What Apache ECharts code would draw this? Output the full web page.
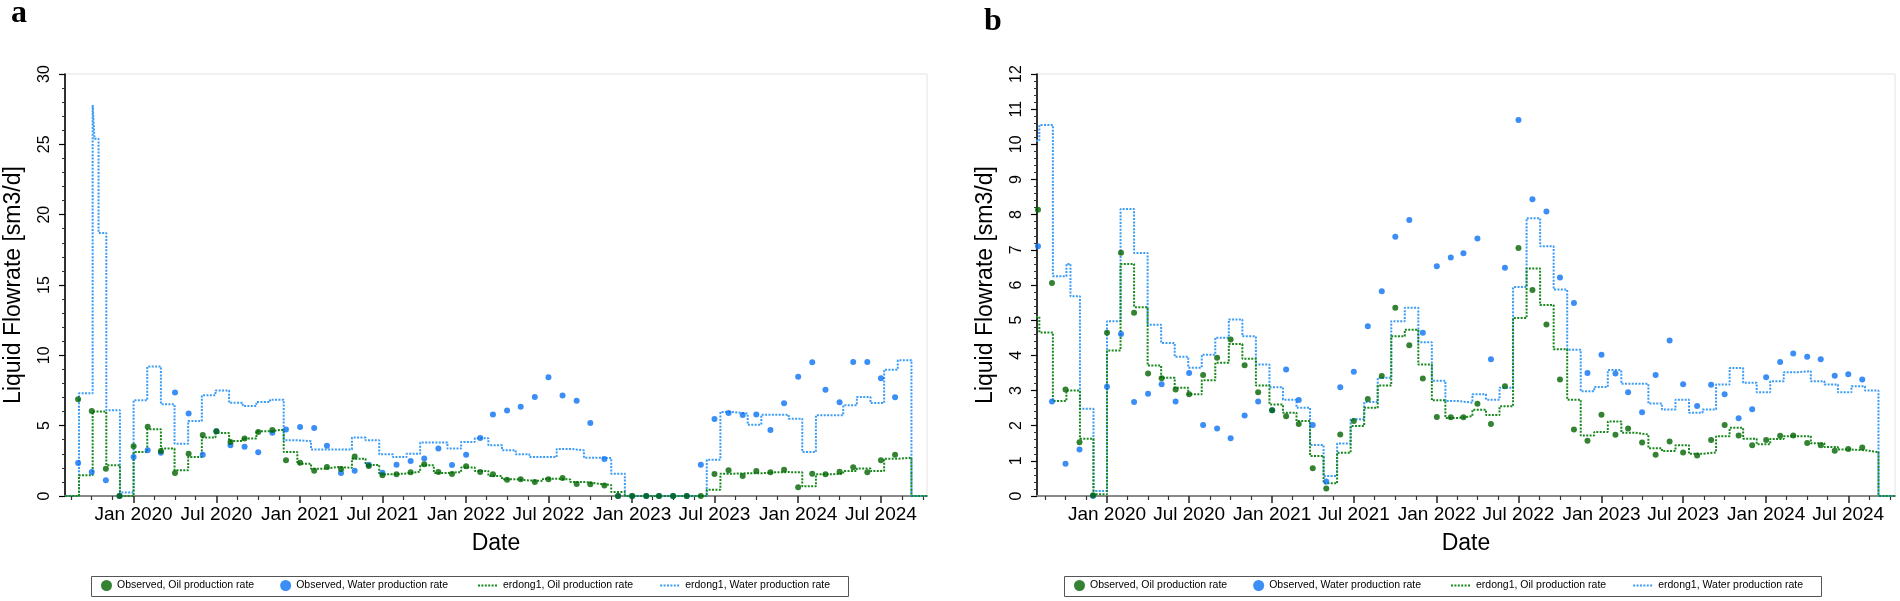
<!DOCTYPE html>
<html><head><meta charset="utf-8">
<script src="https://cdn.jsdelivr.net/npm/echarts@6/dist/echarts.min.js"></script>
<style>html,body{margin:0;padding:0;background:#fff}#c{width:1900px;height:601px}</style>
</head><body><div id="c"></div>
<script>
// ---------------- data ----------------
const tickLabels = ['Jan 2020','Jul 2020','Jan 2021','Jul 2021','Jan 2022','Jul 2022','Jan 2023','Jul 2023','Jan 2024','Jul 2024'];
const seriesNames = ['Observed, Oil production rate','Observed, Water production rate','erdong1, Oil production rate','erdong1, Water production rate'];

// observed, monthly (first of month) from the start month
const obsStartA = '2019-09';
const obsOilA = [6.88,6.05,1.94,0,
  3.53,4.93,3.2,1.64,3.01,4.34,4.6,3.84,4.08,4.55,4.7,2.54,
  2.37,1.8,2.06,1.92,2.8,2.13,1.47,1.54,1.68,2.25,1.71,1.57,
  2.11,1.71,1.54,1.16,1.19,1.0,1.19,1.28,0.85,0.83,0.74,0,
  0,0,0,0,0,0,1.57,1.83,1.42,1.78,1.68,1.87,
  0.62,1.59,1.54,1.73,2.04,1.68,2.54,2.94];
const obsWaterA = [2.35,1.71,1.12,0,
  2.77,3.25,3.08,7.35,5.86,2.94,4.6,3.6,3.51,3.11,4.5,4.72,
  4.91,4.84,3.58,1.64,1.8,2.23,1.66,2.23,2.49,2.66,3.37,2.21,
  2.94,4.13,5.79,6.07,6.35,7.04,8.44,7.14,6.78,5.19,2.63,0,
  0,0,0,0,0,2.23,5.48,5.9,5.76,5.79,4.7,6.59,
  8.47,9.51,7.56,6.66,9.53,9.53,8.37,7.02];

const obsStartB = '2019-08';
const obsOilB = [8.14,6.06,3.03,1.53,0.02,
  4.64,6.92,5.21,3.48,3.35,3.03,2.89,3.44,3.93,4.45,3.72,2.95,
  2.44,2.27,2.05,0.79,0.21,1.75,2.13,2.76,3.41,5.35,4.29,3.34,
  2.25,2.24,2.24,2.62,2.05,3.12,7.05,5.86,4.88,3.31,1.89,1.57,
  2.31,1.74,1.92,1.52,1.17,1.55,1.24,1.15,1.59,2.02,1.72,1.44,
  1.59,1.71,1.72,1.51,1.44,1.29,1.34,1.38];
const obsWaterB = [7.1,2.69,0.92,1.32,0,
  3.11,4.61,2.67,2.91,3.18,2.69,3.5,2.02,1.92,1.64,2.29,2.69,
  2.44,3.6,2.73,2.02,0.41,3.09,3.53,4.83,5.82,7.37,7.85,4.64,
  6.53,6.78,6.9,7.32,3.89,6.49,10.69,8.44,8.09,6.21,5.49,3.5,
  4.02,3.48,2.95,2.38,3.44,4.42,3.18,2.56,3.16,2.89,2.21,2.47,
  3.38,3.81,4.05,3.96,3.89,3.42,3.46,3.31];

// simulated (erdong1): 30-day report steps, step k starts at day 30*k after 2020-01-01
const simFirstStep = -6;
const simStepDays = 30;
const simOilA = [0,0,1.47,6.0,2.18,0,
  3.13,4.74,3.37,1.83,2.78,4.15,4.48,3.91,4.08,4.6,
  4.72,3.13,2.3,1.94,2.06,2.0,2.65,2.2,1.54,1.6,
  1.73,2.18,1.64,1.7,2.02,1.78,1.42,1.19,1.1,1.07,
  1.23,1.18,1.0,0.88,0.78,0.29,0,0,0,0,
  0,0,0.45,1.59,1.62,1.62,1.68,1.7,1.68,0.69,
  1.54,1.59,1.78,1.95,1.78,2.65,2.72,0];
const simWaterA = [0,0,7.3,27.8,6.1,0.24,
  6.8,9.2,6.52,3.72,5.33,7.16,7.5,6.63,6.4,6.68,
  6.85,3.96,3.9,3.31,3.31,3.31,4.15,3.96,2.96,2.77,
  3.0,3.8,3.8,3.37,3.84,4.1,3.6,3.25,2.96,2.77,
  2.77,3.35,3.25,2.72,2.7,1.59,0,0,0,0,
  0,0,2.58,5.97,5.86,5.07,5.78,5.78,5.5,3.13,
  5.74,5.74,6.45,7.04,6.61,8.98,9.65,0];
const simWaterExtraA = [[-86,25.4],[-77,18.7]];   // [day, value] extra report steps

const simOilB = [5.1,4.65,2.7,3.0,1.63,0.05,
  4.14,6.6,5.37,3.71,3.36,3.08,2.89,3.29,3.79,4.32,
  3.9,3.14,2.6,2.37,2.13,1.14,0.36,1.23,1.99,2.51,
  3.14,4.54,4.73,3.74,2.72,2.22,2.27,2.45,2.3,2.55,
  5.06,6.47,5.43,4.17,2.74,1.72,1.82,2.12,1.8,1.75,
  1.36,1.28,1.44,1.2,1.24,1.7,1.94,1.63,1.47,1.62,
  1.7,1.7,1.5,1.39,1.32,1.3,1.25,0];
const simWaterB = [10.1,10.55,6.25,6.6,2.48,0.14,
  4.97,8.16,6.91,4.87,4.35,3.96,3.65,4.02,4.5,5.02,
  4.54,3.74,3.09,2.74,2.51,1.45,0.57,1.49,2.18,2.67,
  3.36,4.97,5.35,4.37,3.28,2.7,2.65,2.89,2.74,3.08,
  5.94,7.9,7.1,5.87,4.16,2.98,3.1,3.58,3.19,3.19,
  2.63,2.46,2.74,2.37,2.46,3.17,3.64,3.22,2.95,3.26,
  3.52,3.55,3.26,3.17,2.95,3.12,3.0,0];
const simWaterExtraB = [[-81,5.68]];

// ---------------- helpers ----------------
const DAY = 86400000, EPOCH = Date.UTC(2020,0,1);
function dayOf(y,m){ return (Date.UTC(y,m-1,1)-EPOCH)/DAY; }
function monthly(start, vals){
  const [y0,m0] = start.split('-').map(Number);
  return vals.map((v,k)=>{ const t=m0-1+k; return [dayOf(y0+Math.floor(t/12), t%12+1), v]; });
}
function steps(vals, extra, xMax){
  const p = vals.map((v,k)=>[(simFirstStep+k)*simStepDays, v]);
  (extra||[]).forEach(e=>p.push(e));
  p.sort((a,b)=>a[0]-b[0]);
  p.push([xMax, 0]);
  return p;
}
const majorDays = [];
for (let y=2020;y<=2024;y++){ majorDays.push(dayOf(y,1)); majorDays.push(dayOf(y,7)); }
const allMajors = [dayOf(2019,7)].concat(majorDays, [dayOf(2025,1)]);
function minorDays(lo,hi){
  const r=[];
  for(let i=0;i<allMajors.length-1;i++){ const a=allMajors[i], b=allMajors[i+1];
    for(let q=1;q<4;q++){ const v=a+(b-a)*q/4; if(v>lo && v<hi) r.push(v); } }
  return r;
}
function fmtX(v){ for(let i=0;i<majorDays.length;i++) if(Math.abs(majorDays[i]-v)<0.5) return tickLabels[i]; return ''; }

const FONT = '"Liberation Sans", Arial, sans-serif';
const C = { obsOil:'#006400', obsWater:'#0a72f2', simOil:'#17891c', simWater:'#3b9cf6' };
const DOT = [2,1.4];

const panels = [
  { left:65, width:862, xMin:-150.8, xMax:1744.2, yMax:30, yInt:5, start:obsStartA, oil:obsOilA, water:obsWaterA, sOil:simOilA, sWater:simWaterA, extra:simWaterExtraA },
  { left:1037, width:858, xMin:-155.2, xMax:1746.6, yMax:12, yInt:1, start:obsStartB, oil:obsOilB, water:obsWaterB, sOil:simOilB, sWater:simWaterB, extra:simWaterExtraB }
];
const grid=[], xAxis=[], yAxis=[], series=[];
panels.forEach((p,i)=>{
  grid.push({left:p.left, top:74, width:p.width, height:422, show:true, borderColor:'#e3e3e3', borderWidth:1, backgroundColor:'transparent'});
  xAxis.push({type:'value', gridIndex:i, min:p.xMin, max:p.xMax, position:'bottom',
    axisLine:{show:true, onZero:false, lineStyle:{color:'#8a8a8a', width:2}},
    axisTick:{show:true, customValues:majorDays, length:7, lineStyle:{color:'#222', width:1.5}},
    axisLabel:{customValues:majorDays, formatter:fmtX, fontSize:19, color:'#000', margin:9, fontFamily:FONT},
    splitLine:{show:false},
    name:'Date', nameLocation:'middle', nameGap:36, nameTextStyle:{fontSize:23, color:'#000', fontFamily:FONT}});
  xAxis.push({type:'value', gridIndex:i, min:p.xMin, max:p.xMax, position:'bottom',
    axisLine:{show:false, onZero:false}, axisLabel:{show:false}, splitLine:{show:false},
    axisTick:{show:true, customValues:minorDays(p.xMin,p.xMax), length:4, lineStyle:{color:'#333', width:1.2}}});
  yAxis.push({type:'value', gridIndex:i, min:0, max:p.yMax, interval:p.yInt, position:'left',
    axisLine:{show:true, onZero:false, lineStyle:{color:'#000', width:1.6}},
    axisTick:{show:true, length:6, lineStyle:{color:'#000', width:1.2}},
    minorTick:{show:true, splitNumber:5, length:3, lineStyle:{color:'#333', width:1}},
    axisLabel:{rotate:90, fontSize:16, color:'#000', margin:12, fontFamily:FONT},
    splitLine:{show:false},
    name:'Liquid Flowrate [sm3/d]', nameLocation:'middle', nameGap:40, nameRotate:90,
    nameTextStyle:{fontSize:23, color:'#000', fontFamily:FONT}});
  const xi = i*2;
  series.push({name:seriesNames[3], type:'line', step:'end', xAxisIndex:xi, yAxisIndex:i, data:steps(p.sWater,p.extra,p.xMax),
    symbol:'none', lineStyle:{color:C.simWater, width:2, type:DOT}, itemStyle:{color:C.simWater}, z:2});
  series.push({name:seriesNames[2], type:'line', step:'end', xAxisIndex:xi, yAxisIndex:i, data:steps(p.sOil,null,p.xMax),
    symbol:'none', lineStyle:{color:C.simOil, width:2, type:DOT}, itemStyle:{color:C.simOil}, z:3});
  series.push({name:seriesNames[1], type:'scatter', xAxisIndex:xi, yAxisIndex:i, data:monthly(p.start,p.water),
    symbol:'circle', symbolSize:6, itemStyle:{color:C.obsWater}, z:4});
  series.push({name:seriesNames[0], type:'scatter', xAxisIndex:xi, yAxisIndex:i, data:monthly(p.start,p.oil),
    symbol:'circle', symbolSize:6, itemStyle:{color:C.obsOil}, z:5});
});

const legBase = {orient:'horizontal', selectedMode:false, itemGap:26, textStyle:{fontSize:10.5, color:'#000', fontFamily:FONT}, padding:0};
const legend = [];
[91,1064].forEach(bx=>{
  legend.push(Object.assign({}, legBase, {left:bx+10, top:580, itemWidth:11, itemHeight:11, icon:'circle', data:[seriesNames[0],seriesNames[1]]}));
  legend.push(Object.assign({}, legBase, {left:bx+386, top:580, itemWidth:20, itemHeight:11,
    data:[{name:seriesNames[2], itemStyle:{opacity:0}}, {name:seriesNames[3], itemStyle:{opacity:0}}]}));
});

const graphic = [
  {type:'text', left:11, top:-2, style:{text:'a', font:'bold 32px "Liberation Serif", "Times New Roman", serif', fill:'#000'}},
  {type:'text', left:984, top:6, style:{text:'b', font:'bold 32px "Liberation Serif", "Times New Roman", serif', fill:'#000'}},
  {type:'rect', left:91, top:576, shape:{width:757, height:20}, style:{fill:'#fff', stroke:'#555', lineWidth:1}, z:-1},
  {type:'rect', left:1064, top:576, shape:{width:757, height:20}, style:{fill:'#fff', stroke:'#555', lineWidth:1}, z:-1}
];

const chart = echarts.init(document.getElementById('c'), null, {renderer:'canvas'});
chart.setOption({animation:false, backgroundColor:'#fff', grid, xAxis, yAxis, series, legend, graphic});
</script></body></html>
